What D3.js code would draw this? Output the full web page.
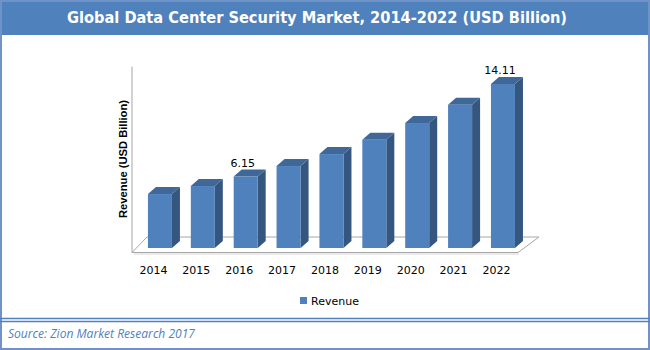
<!DOCTYPE html>
<html>
<head>
<meta charset="utf-8">
<script src="https://cdn.jsdelivr.net/npm/d3@7"></script>
<style>
  body { margin: 0; background: #fff; }
  svg { display: block; }
</style>
</head>
<body>
<svg width="650" height="350"></svg>
<script>
// data
const years = ["2014", "2015", "2016", "2017", "2018", "2019", "2020", "2021", "2022"];
const revenue = [4.64, 5.33, 6.15, 7.05, 8.08, 9.32, 10.75, 12.33, 14.11];
const shownLabels = ["2016", "2022"];
const yDomain = [0, 16];

const svg = d3.select("svg");
const W = 650, H = 350;
const blue = "#4F81BD";

// frame + title bar
svg.append("rect").attr("x", 0).attr("y", 0).attr("width", W).attr("height", H).attr("fill", "#fff");
svg.append("rect").attr("x", 0).attr("y", 0).attr("width", W).attr("height", 35).attr("fill", blue);
svg.append("rect")
    .attr("x", 1).attr("y", 1).attr("width", W - 2).attr("height", H - 2)
    .attr("fill", "none").attr("stroke", "#6F93C6").attr("stroke-width", 2);
svg.append("line").attr("x1", 0).attr("x2", W).attr("y1", 318.5).attr("y2", 318.5)
    .attr("stroke", blue).attr("stroke-width", 1.5);
svg.append("line").attr("x1", 0).attr("x2", W).attr("y1", 321.5).attr("y2", 321.5)
    .attr("stroke", blue).attr("stroke-width", 1.5);

svg.append("text")
    .attr("x", 317).attr("y", 23)
    .attr("text-anchor", "middle")
    .attr("textLength", 500).attr("lengthAdjust", "spacingAndGlyphs")
    .style("font-family", "'DejaVu Sans', sans-serif")
    .style("font-weight", "bold").style("font-size", "15px")
    .attr("fill", "#fff")
    .text("Global Data Center Security Market, 2014-2022 (USD Billion)");

svg.append("text")
    .attr("x", 8).attr("y", 338)
    .attr("textLength", 187).attr("lengthAdjust", "spacingAndGlyphs")
    .style("font-family", "'Open Sans', sans-serif")
    .style("font-style", "italic").style("font-size", "12px")
    .attr("fill", blue)
    .text("Source: Zion Market Research 2017");

// scales
const x = d3.scaleBand()
    .domain(years)
    .range([126.5, 536.4])
    .paddingInner(0.44)
    .paddingOuter(0.5);

const y = d3.scaleLinear()
    .domain(yDomain)
    .range([248, 62]);

const depth = { dx: 8, dy: -7 };
const floor = { front: y(0) + 4.5, back: y(0) - 11, left: 132, right: 518, backLeft: 147, backRight: 539 };

// side wall line
svg.append("line")
    .attr("x1", floor.left).attr("x2", floor.left)
    .attr("y1", floor.front).attr("y2", y(15.6))
    .attr("stroke", "#A6A6A6").attr("stroke-width", 1);

// floor
svg.append("path")
    .attr("d", `M${floor.left},${floor.front} L${floor.right},${floor.front} L${floor.backRight},${floor.back} L${floor.backLeft},${floor.back} Z`)
    .attr("fill", "#fff")
    .attr("stroke", "#A6A6A6").attr("stroke-width", 1);
svg.append("line")
    .attr("x1", floor.left + 2).attr("x2", floor.right + 1)
    .attr("y1", floor.front + 1.5).attr("y2", floor.front + 1.5)
    .attr("stroke", "#E3E3E3").attr("stroke-width", 1.5);

// bars
const data = years.map((yr, i) => ({ year: yr, value: revenue[i] }));
const bars = svg.append("g").selectAll("g")
    .data(data)
    .join("g");

const bw = x.bandwidth();

bars.append("path") // side
    .attr("d", d => {
        const x1 = x(d.year) + bw, y0 = y(0), y1 = y(d.value);
        return `M${x1},${y0} L${x1 + depth.dx},${y0 + depth.dy} L${x1 + depth.dx},${y1 + depth.dy} L${x1},${y1} Z`;
    })
    .attr("fill", "#34567F");

bars.append("path") // top
    .attr("d", d => {
        const x0 = x(d.year), y1 = y(d.value);
        return `M${x0},${y1} L${x0 + depth.dx},${y1 + depth.dy} L${x0 + bw + depth.dx},${y1 + depth.dy} L${x0 + bw},${y1} Z`;
    })
    .attr("fill", "#3F6798");

bars.append("rect") // front
    .attr("x", d => x(d.year))
    .attr("y", d => y(d.value))
    .attr("width", bw)
    .attr("height", d => y(0) - y(d.value))
    .attr("fill", blue);

// data labels
svg.append("g").selectAll("text")
    .data(data.filter(d => shownLabels.includes(d.year)))
    .join("text")
    .attr("x", d => x(d.year) + bw / 2 - 3)
    .attr("y", d => y(d.value) - 9.5)
    .attr("text-anchor", "middle")
    .style("font-family", "'DejaVu Sans', sans-serif")
    .style("font-size", "11px")
    .attr("fill", "#000")
    .text(d => d.value.toFixed(2));

// category axis (labels only)
const axisX = d3.axisBottom(x).tickSize(0).tickPadding(0);
const gx = svg.append("g")
    .attr("transform", `translate(-6.5, 274)`)
    .call(axisX);
gx.select(".domain").remove();
gx.selectAll("text")
    .attr("dy", 0)
    .style("font-family", "'DejaVu Sans', sans-serif")
    .style("font-size", "11px")
    .attr("fill", "#000");

// y axis title
svg.append("text")
    .attr("transform", "translate(127, 159) rotate(-90)")
    .attr("text-anchor", "middle")
    .attr("textLength", 118).attr("lengthAdjust", "spacingAndGlyphs")
    .style("font-family", "'Liberation Sans', Arial, sans-serif")
    .style("font-weight", "bold").style("font-size", "11px")
    .attr("fill", "#000")
    .text("Revenue (USD Billion)");

// legend
const legend = svg.append("g").attr("transform", "translate(300, 297)");
legend.append("rect").attr("width", 7).attr("height", 7).attr("fill", blue);
legend.append("text")
    .attr("x", 11).attr("y", 7.5)
    .style("font-family", "'DejaVu Sans', sans-serif")
    .style("font-size", "11px")
    .attr("fill", "#000")
    .text("Revenue");
</script>
</body>
</html>
